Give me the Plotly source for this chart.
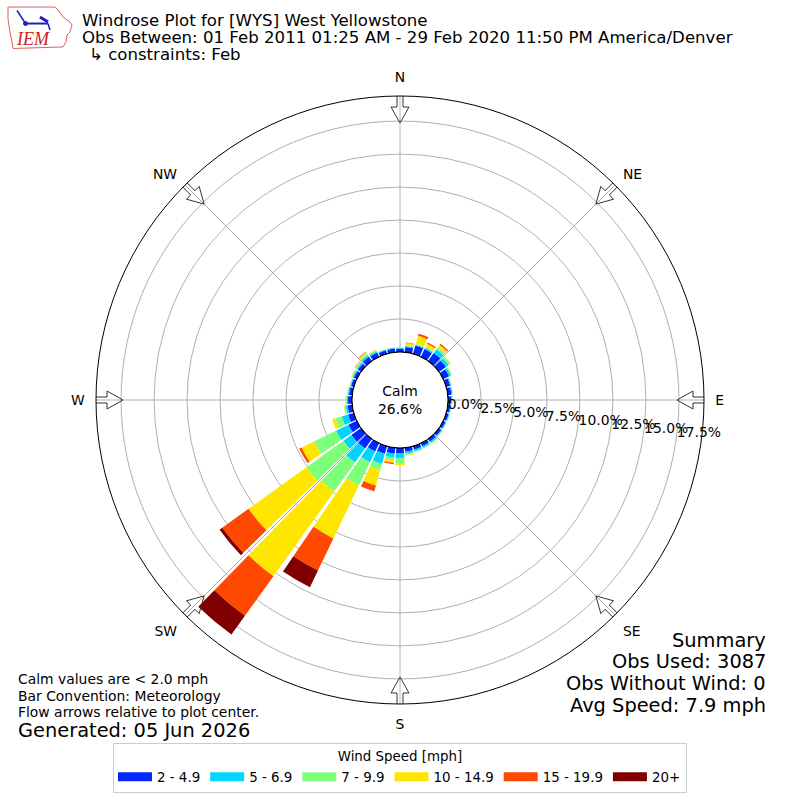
import numpy as np
import plotly.graph_objects as go

# ---- data (percent of all obs, 10 degree bins, 0 = N, clockwise) ----
directions = list(range(0, 360, 10))
speed_bins = ["2 - 4.9", "5 - 6.9", "7 - 9.9", "10 - 14.9", "15 - 19.9", "20+"]
bin_colors = ["#0028ff", "#00d4ff", "#7dff7a", "#ffe600", "#ff4800", "#800000"]

pct_2_5 = [0.25, 0.40, 0.66, 0.65, 0.75, 0.65, 0.50, 0.32, 0.28, 0.25, 0.20, 0.20,
           0.20, 0.22, 0.25, 0.25, 0.28, 0.30, 0.40, 0.45, 0.60, 0.70, 0.90, 0.90,
           0.70, 0.45, 0.35, 0.30, 0.25, 0.22, 0.25, 0.30, 0.40, 0.35, 0.28, 0.28]
pct_5_7 = [0.06, 0.08, 0.06, 0.10, 0.35, 0.25, 0.15, 0.08, 0.08, 0.07, 0.07, 0.06,
           0.06, 0.08, 0.12, 0.12, 0.12, 0.15, 0.38, 0.30, 0.80, 0.90, 1.30, 0.75,
           1.05, 0.50, 0.15, 0.10, 0.08, 0.07, 0.10, 0.12, 0.15, 0.12, 0.06, 0.06]
pct_7_10 = [0.03, 0.07, 0.08, 0.10, 0.20, 0.15, 0.08, 0.04, 0.04, 0.03, 0.03, 0.03,
            0.03, 0.04, 0.08, 0.07, 0.08, 0.10, 0.42, 0.20, 0.50, 1.95, 2.70, 3.45,
            1.85, 0.50, 0.10, 0.05, 0.04, 0.04, 0.06, 0.08, 0.12, 0.08, 0.03, 0.03]
pct_10_15 = [0.01, 0.15, 0.62, 0.25, 0.20, 0.05, 0.02, 0.01, 0.00, 0.00, 0.00, 0.00,
             0.01, 0.01, 0.01, 0.01, 0.02, 0.05, 0.10, 0.20, 1.20, 4.45, 7.90, 5.40,
             1.05, 0.25, 0.05, 0.05, 0.03, 0.02, 0.03, 0.07, 0.13, 0.05, 0.01, 0.01]
pct_15_20 = [0.00, 0.05, 0.14, 0.10, 0.08, 0.00, 0.00, 0.00, 0.00, 0.00, 0.00, 0.00,
             0.00, 0.00, 0.00, 0.00, 0.00, 0.00, 0.00, 0.10, 0.45, 2.70, 3.70, 2.45,
             0.20, 0.00, 0.00, 0.00, 0.00, 0.00, 0.01, 0.03, 0.05, 0.00, 0.00, 0.00]
pct_20_up = [0.00, 0.00, 0.02, 0.00, 0.02, 0.00, 0.00, 0.00, 0.00, 0.00, 0.00, 0.00,
             0.00, 0.00, 0.00, 0.00, 0.00, 0.00, 0.00, 0.00, 0.00, 1.40, 1.75, 0.25,
             0.00, 0.00, 0.00, 0.00, 0.00, 0.00, 0.00, 0.00, 0.00, 0.00, 0.00, 0.00]
series = [pct_2_5, pct_5_7, pct_7_10, pct_10_15, pct_15_20, pct_20_up]

calm_pct = 26.6
obs_used = 3087
obs_no_wind = 0
avg_speed = 7.9
calm_limit = 2.0
radial_ticks = [0, 2.5, 5, 7.5, 10, 12.5, 15, 17.5]
compass_names = ["N", "NE", "E", "SE", "S", "SW", "W", "NW"]
compass_deg = [0, 45, 90, 135, 180, 225, 270, 315]

FONT = "DejaVu Sans"
W = H = 800
R_OUT, R_HOLE, R_MAX = 304.0, 48.0, 19.4   # outer radius px, calm hole px, axis max %


def px_to_r(px):
    return (px - R_HOLE) / (R_OUT - R_HOLE) * R_MAX


def arrow_poly(deg):
    # hollow inward pointing arrow at the rim, (along, across) in px
    pts = [(307, -3), (293, -3), (293, -9), (277, 0), (293, 9), (293, 3), (307, 3), (307, -3)]
    r = [px_to_r(np.hypot(a, c)) for a, c in pts]
    th = [deg + np.degrees(np.arctan2(c, a)) for a, c in pts]
    return r, th


fig = go.Figure()

for name, color, vals in zip(speed_bins, bin_colors, series):
    fig.add_trace(go.Barpolar(
        r=vals, theta=directions, width=8.6, name=name, legendgroup=name,
        marker=dict(color=color, line=dict(width=0)), showlegend=False,
        hovertemplate="%{theta}°: %{r:.2f}%<extra>" + name + "</extra>"))
    # legend entry drawn as a wide swatch
    fig.add_trace(go.Scatterpolar(
        r=[None], theta=[None], mode="lines", name=name, legendgroup=name,
        line=dict(color=color, width=9)))

# calm circle outline
ring = np.linspace(0, 360, 361)
fig.add_trace(go.Scatterpolar(
    r=[0] * len(ring), theta=ring, mode="lines", line=dict(color="black", width=1.2),
    hoverinfo="skip", showlegend=False, cliponaxis=False))

# flow arrows
for d in compass_deg:
    ar, at = arrow_poly(d)
    fig.add_trace(go.Scatterpolar(
        r=ar, theta=at, mode="lines", line=dict(color="#333333", width=1),
        hoverinfo="skip", showlegend=False, cliponaxis=False))

# radial tick labels
fig.add_trace(go.Scatterpolar(
    r=radial_ticks, theta=[97] * len(radial_ticks), mode="text",
    text=["%.1f%%" % t for t in radial_ticks], textposition="middle right",
    textfont=dict(family=FONT, size=13.9, color="black"),
    hoverinfo="skip", showlegend=False, cliponaxis=False))


def note(text, x, y, size, xanchor="left"):
    return dict(text=text, x=x / W, y=1 - y / H, xref="paper", yref="paper",
                showarrow=False, xanchor=xanchor, yanchor="middle",
                font=dict(family=FONT, size=size, color="black"))


def pp(x, y):
    return "%.4f %.4f" % (x / W, 1 - y / H)


def ppath(pts, close=True):
    return "M " + " L ".join(pp(x, y) for x, y in pts) + (" Z" if close else "")


annotations = [
    note("Windrose Plot for [WYS] West Yellowstone", 80, 20, 16.6),
    note("Obs Between: 01 Feb 2011 01:25 AM - 29 Feb 2020 11:50 PM America/Denver", 80, 38, 16.6),
    note("↳ constraints: Feb", 87, 55, 16.6),
    dict(text="Calm<br>%.1f%%" % calm_pct, x=0.5, y=0.5, xref="paper", yref="paper",
         showarrow=False, font=dict(family=FONT, size=13.9, color="black")),
    note("Summary", 768, 640, 19.4, "right"),
    note("Obs Used: %d" % obs_used, 768, 661, 19.4, "right"),
    note("Obs Without Wind: %d" % obs_no_wind, 768, 683, 19.4, "right"),
    note("Avg Speed: %.1f mph" % avg_speed, 768, 705, 19.4, "right"),
    note("Calm values are < %.1f mph" % calm_limit, 16, 679, 13.9),
    note("Bar Convention: Meteorology", 16, 696, 13.9),
    note("Flow arrows relative to plot center.", 16, 712, 13.9),
    note("Generated: 05 Jun 2026", 16, 730, 19.4),
    dict(text="<i>IEM</i>", x=33 / W, y=1 - 39 / H, xref="paper", yref="paper",
         showarrow=False, xanchor="center", yanchor="middle",
         font=dict(family="Liberation Serif", size=18, color="#cc2222")),
]

# IEM logo (rough Iowa outline + station symbol)
logo_outline = [(8, 7), (55, 7), (58, 10), (63, 17), (70, 22), (72, 25), (70, 32),
                (67, 35), (66, 42), (63, 47), (13, 48.5), (12, 42), (10, 32), (8, 19)]
blue = "#1f1fbf"
shapes = [
    dict(type="path", path=ppath(logo_outline), xref="paper", yref="paper",
         line=dict(color="#e06060", width=1)),
    dict(type="path", path=ppath([(25.5, 23.5), (48, 23.5)], False), xref="paper",
         yref="paper", line=dict(color=blue, width=2)),
    dict(type="path", path=ppath([(25.5, 23.5), (17, 10.5)], False), xref="paper",
         yref="paper", line=dict(color=blue, width=1.5)),
    dict(type="path", path=ppath([(40, 17), (48, 22)], False), xref="paper",
         yref="paper", line=dict(color=blue, width=3)),
    dict(type="path", path=ppath([(48, 23.5), (50, 30)], False), xref="paper",
         yref="paper", line=dict(color=blue, width=1.5)),
    dict(type="circle", x0=23.5 / W, x1=27.5 / W, y0=1 - 25.5 / H, y1=1 - 21.5 / H,
         xref="paper", yref="paper", fillcolor=blue, line=dict(color=blue, width=1)),
]

fig.update_layout(
    width=W, height=H, margin=dict(l=0, r=0, t=0, b=0),
    paper_bgcolor="white", font=dict(family=FONT, size=12, color="black"),
    polar=dict(
        domain=dict(x=[96 / W, 704 / W], y=[96 / H, 704 / H]),
        bgcolor="white", hole=R_HOLE / R_OUT, barmode="stack",
        radialaxis=dict(range=[0, R_MAX], tickvals=radial_ticks, showticklabels=False,
                        ticks="", showline=False, gridcolor="#b0b0b0", gridwidth=1),
        angularaxis=dict(rotation=90, direction="clockwise", tickvals=compass_deg,
                         ticktext=compass_names, showticklabels=True,
                         ticks="outside", ticklen=8, tickcolor="rgba(0,0,0,0)",
                         tickfont=dict(family=FONT, size=13.9, color="black"),
                         showline=True, linecolor="black", linewidth=1,
                         gridcolor="#b0b0b0", gridwidth=1),
    ),
    legend=dict(orientation="h", x=0.5, xanchor="center", y=1 - 743 / H, yanchor="top",
                bordercolor="#cccccc", borderwidth=1, bgcolor="white", itemwidth=34,
                font=dict(family=FONT, size=13.4),
                title=dict(text="Wind Speed [mph]", side="top center",
                           font=dict(family=FONT, size=13.4))),
    annotations=annotations, shapes=shapes,
)

fig.write_html("out.html", config={"displayModeBar": False},
               post_script="document.body.style.margin='0px';")
